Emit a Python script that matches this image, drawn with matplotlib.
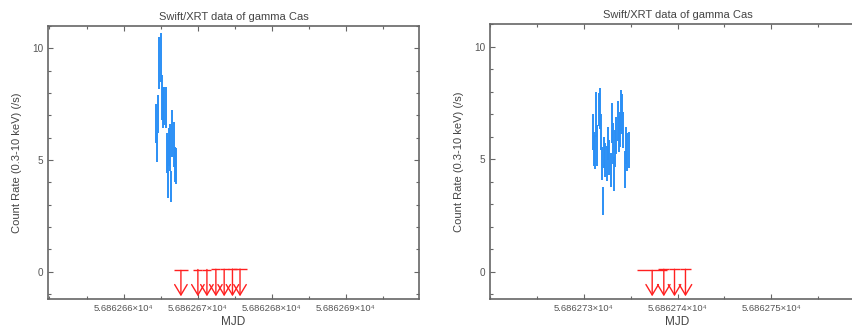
import numpy as np
import matplotlib.pyplot as plt
from matplotlib.ticker import MultipleLocator, FixedLocator, FuncFormatter

plt.rcParams['font.family'] = ['Liberation Sans', 'DejaVu Sans']

# observation 1: detections (MJD, rate, 1-sigma error)
t1 = [56862.66441, 56862.66450, 56862.66468, 56862.66481, 56862.66504,
      56862.66518, 56862.66531, 56862.66549, 56862.66567, 56862.66585,
      56862.66599, 56862.66617, 56862.66630, 56862.66644, 56862.66661,
      56862.66675, 56862.66694, 56862.66707]
r1 = [6.65, 5.55, 7.05, 9.35, 9.6, 7.8, 7.35, 7.4, 7.35, 5.3,
      4.6, 5.6, 5.55, 3.8, 6.2, 5.7, 4.8, 4.75]
e1 = [0.87, 0.65, 0.85, 1.15, 1.1, 1.0, 0.9, 0.85, 0.9, 0.9,
      1.3, 0.85, 1.05, 0.7, 1.05, 1.0, 0.8, 0.8]
# observation 1: upper limits
ul_t1 = [56862.66775, 56862.67004, 56862.67126, 56862.67247,
         56862.67359, 56862.67471, 56862.67573]
ul_r1 = [0.06, 0.1, 0.1, 0.11, 0.11, 0.12, 0.12]
ul_dt1 = [0.0010, 0.0006, 0.0006, 0.0006, 0.0006, 0.0006, 0.0009]

# observation 2: detections
t2 = [56862.73096, 56862.73107, 56862.73121, 56862.73132, 56862.73146,
      56862.73160, 56862.73174, 56862.73185, 56862.73196, 56862.73206,
      56862.73217, 56862.73231, 56862.73245, 56862.73260, 56862.73274,
      56862.73288, 56862.73302, 56862.73313, 56862.73327, 56862.73338,
      56862.73348, 56862.73363, 56862.73373, 56862.73384, 56862.73398,
      56862.73409, 56862.73423, 56862.73437, 56862.73451, 56862.73466,
      56862.73480]
r2 = [6.2, 5.45, 5.3, 7.0, 5.6, 7.2, 7.25, 6.2, 4.8, 3.13,
      5.28, 4.95, 4.8, 5.7, 5.05, 4.5, 6.6, 5.7, 4.35, 5.45,
      6.05, 6.7, 6.1, 6.3, 7.15, 7.0, 6.3, 4.55, 5.6, 5.3, 5.4]
e2 = [0.8, 0.75, 0.75, 1.0, 0.9, 0.75, 0.9, 0.82, 0.75, 0.63,
      0.7, 0.75, 0.78, 0.74, 0.78, 0.75, 0.89, 0.9, 0.75, 0.82,
      0.82, 0.88, 0.8, 0.78, 0.9, 0.88, 0.8, 0.82, 0.82, 0.85, 0.8]
# observation 2: upper limits
ul_t2 = [56862.73730, 56862.73854, 56862.73968, 56862.74085]
ul_r2 = [0.05, 0.1, 0.1, 0.1]
ul_dt2 = [0.0016, 0.0006, 0.0006, 0.0006]

xticks1 = [56862.66, 56862.67, 56862.68, 56862.69]
xticks2 = [56862.73, 56862.74, 56862.75]
xlims = [(56862.6498, 56862.6999), (56862.7200, 56862.7600)]
arrow_tip = -1.1

fig = plt.figure(figsize=(8.53, 3.26), dpi=100)
ax1 = fig.add_axes([48/853, 27/326, 371/853, 273/326])
ax2 = fig.add_axes([490/853, 27/326, 375/853, 275/326])

data = [(ax1, t1, r1, e1, ul_t1, ul_r1, ul_dt1, xticks1),
        (ax2, t2, r2, e2, ul_t2, ul_r2, ul_dt2, xticks2)]

fmt = FuncFormatter(lambda v, p: '%.6f\u00d710\u2074' % (v / 1e4))

for n, (ax, t, r, e, ut, ur, udt, xt) in enumerate(data):
    ax.errorbar(t, r, yerr=e, fmt='none', ecolor='#2b8ff5', elinewidth=1.4,
                capsize=0)
    ax.errorbar(ut, ur, xerr=udt, fmt='none', ecolor='#ff2020',
                elinewidth=1.0, capsize=0)
    for x, y in zip(ut, ur):
        ax.annotate('', xy=(x, arrow_tip), xytext=(x, y),
                    arrowprops=dict(arrowstyle='->,head_length=0.75,head_width=0.45',
                                    color='#ff2020', lw=1.0, mutation_scale=10,
                                    shrinkA=0, shrinkB=0))
    ax.set_xlim(*xlims[n])
    ax.set_ylim(-1.22, 11.0)
    ax.xaxis.set_major_locator(FixedLocator(xt))
    ax.xaxis.set_minor_locator(MultipleLocator(0.005))
    ax.yaxis.set_major_locator(MultipleLocator(5))
    ax.yaxis.set_minor_locator(MultipleLocator(1))
    ax.xaxis.set_major_formatter(fmt)
    ax.tick_params(which='both', direction='in', top=True, right=True,
                   colors='#666666', labelcolor='#555555', labelsize=6.8,
                   width=0.8)
    ax.tick_params(axis='y', labelsize=7.2)
    ax.tick_params(which='major', length=3.5)
    ax.tick_params(which='minor', length=2)
    for sp in ax.spines.values():
        sp.set_color('#666666')
        sp.set_linewidth(1.2)
    ax.set_title('Swift/XRT data of gamma Cas', fontsize=8, color='#444444', pad=4)
    ax.set_xlabel('MJD', fontsize=8.5, color='#444444', labelpad=2)
    ax.set_ylabel('Count Rate (0.3-10 keV) (/s)', fontsize=8, color='#444444',
                  labelpad=7)

plt.savefig('out.png', dpi=100)
